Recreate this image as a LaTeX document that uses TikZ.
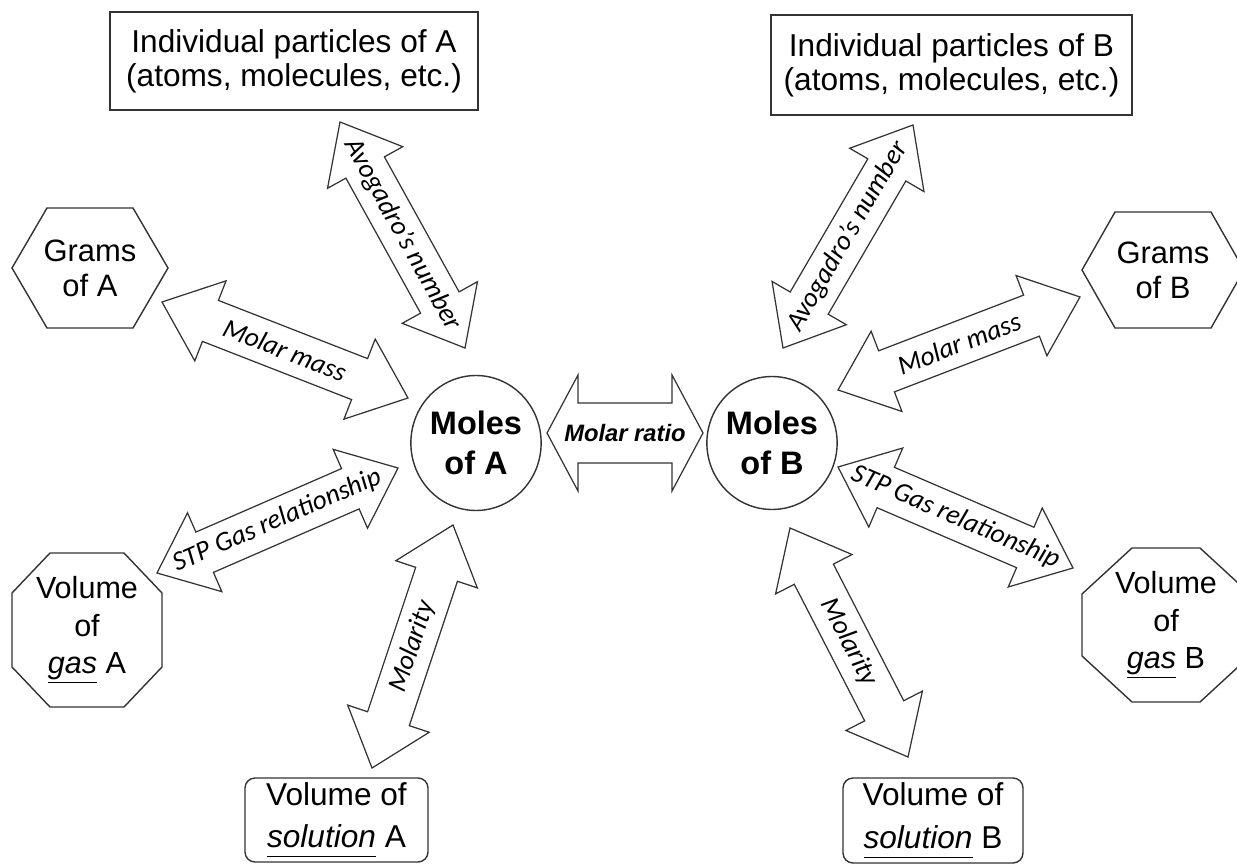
\documentclass[tikz,border=0pt]{standalone}
\usepackage{fontspec}
\setmainfont{Liberation Sans}
\newfontfamily\lblfont{Carlito}
\usetikzlibrary{calc,shapes.geometric}

\tikzset{
  outline/.style={draw=black!80, line width=0.8pt},
  barrow/.style={draw=black!80, line width=0.7pt, fill=white},
  boxlbl/.style={align=center, inner sep=0pt, font=\fontsize{18}{19.5}\selectfont},
  arrlbl/.style={inner sep=0pt, font=\lblfont\itshape\fontsize{15.5}{17}\selectfont},
  ratiolbl/.style={inner sep=0pt, font=\bfseries\itshape\fontsize{13.5}{15}\selectfont},
}

% #1 from, #2 to, #3 head length, #4 head half width, #5 shaft half width, #6 label style, #7 label
\newcommand\blockarrow[7]{%
  \draw[barrow] let \p1=(#1), \p2=(#2), \n1={atan2(\y2-\y1,\x2-\x1)} in
    (\p1) -- ($(\p1)+(\n1:#3)+(\n1+90:#4)$) -- ($(\p1)+(\n1:#3)+(\n1+90:#5)$)
    -- ($(\p2)+(\n1+180:#3)+(\n1+90:#5)$) -- ($(\p2)+(\n1+180:#3)+(\n1+90:#4)$)
    -- (\p2) -- ($(\p2)+(\n1+180:#3)+(\n1-90:#4)$) -- ($(\p2)+(\n1+180:#3)+(\n1-90:#5)$)
    -- ($(\p1)+(\n1:#3)+(\n1-90:#5)$) -- ($(\p1)+(\n1:#3)+(\n1-90:#4)$) -- cycle
    ($(\p1)!0.5!(\p2)$) node[rotate=\n1, #6] {#7};
}
% hexagon around a node: name, half width, top half length, half height
\newcommand\hexat[4]{%
  \draw[outline] (#1.center) ++(-#2,0) -- ++(#2-#3,-#4) -- ++(2*#3,0) -- ++(#2-#3,#4)
    -- ++(#3-#2,#4) -- ++(-2*#3,0) -- cycle;}
% octagon around a node: name, half width, top half length, half height, side half length
\newcommand\octat[5]{%
  \draw[outline] (#1.center) ++(-#2,-#5) -- ++(#2-#3,#5-#4) -- ++(2*#3,0) -- ++(#2-#3,#4-#5)
    -- ++(0,2*#5) -- ++(#3-#2,#4-#5) -- ++(-2*#3,0) -- ++(#3-#2,#5-#4) -- cycle;}

\begin{document}
\begin{tikzpicture}[x=0.02cm, y=-0.02cm]
\useasboundingbox (0,0) rectangle (1237,864);

% particle boxes
\node[boxlbl, outline, minimum width=7.36cm, minimum height=1.96cm] (pA) at (294,61)
  {Individual particles of A\\(atoms, molecules, etc.)};
\node[boxlbl, outline, minimum width=7.22cm, minimum height=2.0cm] (pB) at (951.5,65)
  {Individual particles of B\\(atoms, molecules, etc.)};

% grams hexagons
\node[boxlbl, font=\fontsize{17.6}{19.8}\selectfont] (gA) at (90,268) {Grams\\of A};
\hexat{gA}{78}{43}{60}
\node[boxlbl, font=\fontsize{17.6}{19.8}\selectfont] (gB) at (1163,270) {Grams\\of B};
\hexat{gB}{81}{48}{58}

% moles ellipses
\node[ellipse, outline, minimum width=2.4cm, minimum height=2.7cm, inner sep=0pt, align=center,
  font=\bfseries\fontsize{18.5}{22.7}\selectfont] (mA) at (476,443) {Moles\\of A};
\node[ellipse, outline, minimum width=2.4cm, minimum height=2.66cm, inner sep=0pt, align=center,
  font=\bfseries\fontsize{18.5}{22.7}\selectfont] (mB) at (772,443) {Moles\\of B};

% gas octagons
\node[boxlbl, font=\fontsize{17.4}{21.3}\selectfont] (vgA) at (87,630)
  {Volume\\of\\\underline{\textit{gas}} A};
\octat{vgA}{75}{37}{77}{37}
\node[boxlbl, font=\fontsize{17.4}{21.3}\selectfont] (vgB) at (1166,625)
  {Volume\\of\\\underline{\textit{gas}} B};
\octat{vgB}{84}{34}{77}{31}

% solution boxes
\node[boxlbl, outline, rounded corners=0.2cm, minimum width=3.66cm, minimum height=1.68cm,
  font=\fontsize{18}{24}\selectfont] (sA) at (336.5,820)
  {Volume of\\\underline{\textit{solution}\vphantom{g}} A};
\node[boxlbl, outline, rounded corners=0.2cm, minimum width=3.6cm, minimum height=1.7cm,
  font=\fontsize{18}{24}\selectfont] (sB) at (933,820.5)
  {Volume of\\\underline{\textit{solution}\vphantom{g}} B};

% arrow tips
\coordinate (avA1) at (340,122);  \coordinate (avA2) at (465,348);
\coordinate (mmA1) at (162,302);  \coordinate (mmA2) at (408,398);
\coordinate (stA1) at (157,573);  \coordinate (stA2) at (398,468);
\coordinate (moA1) at (372,768);  \coordinate (moA2) at (453,525);
\coordinate (avB1) at (783,348);  \coordinate (avB2) at (913,125);
\coordinate (mmB1) at (838,390);  \coordinate (mmB2) at (1080,297);
\coordinate (stB1) at (838,467);  \coordinate (stB2) at (1073,568);
\coordinate (moB1) at (790,528);  \coordinate (moB2) at (908,757);
\coordinate (mr1) at (547,433);   \coordinate (mr2) at (703,433);

\blockarrow{avA1}{avA2}{1.04cm}{0.86cm}{0.44cm}{arrlbl}{Avogadro’s number}
\blockarrow{mmA1}{mmA2}{1.04cm}{0.86cm}{0.44cm}{arrlbl}{Molar mass}
\blockarrow{stA1}{stA2}{1.04cm}{0.86cm}{0.44cm}{arrlbl}{STP Gas relationship}
\blockarrow{moA1}{moA2}{1.04cm}{0.86cm}{0.44cm}{arrlbl}{Molarity}
\blockarrow{avB1}{avB2}{1.04cm}{0.86cm}{0.44cm}{arrlbl}{Avogadro’s number}
\blockarrow{mmB1}{mmB2}{1.04cm}{0.86cm}{0.44cm}{arrlbl}{Molar mass}
\blockarrow{stB1}{stB2}{1.04cm}{0.86cm}{0.44cm}{arrlbl}{STP Gas relationship}
\blockarrow{moB1}{moB2}{1.04cm}{0.86cm}{0.44cm}{arrlbl}{Molarity}
\blockarrow{mr1}{mr2}{0.62cm}{1.16cm}{0.6cm}{ratiolbl}{Molar ratio}
\end{tikzpicture}
\end{document}
